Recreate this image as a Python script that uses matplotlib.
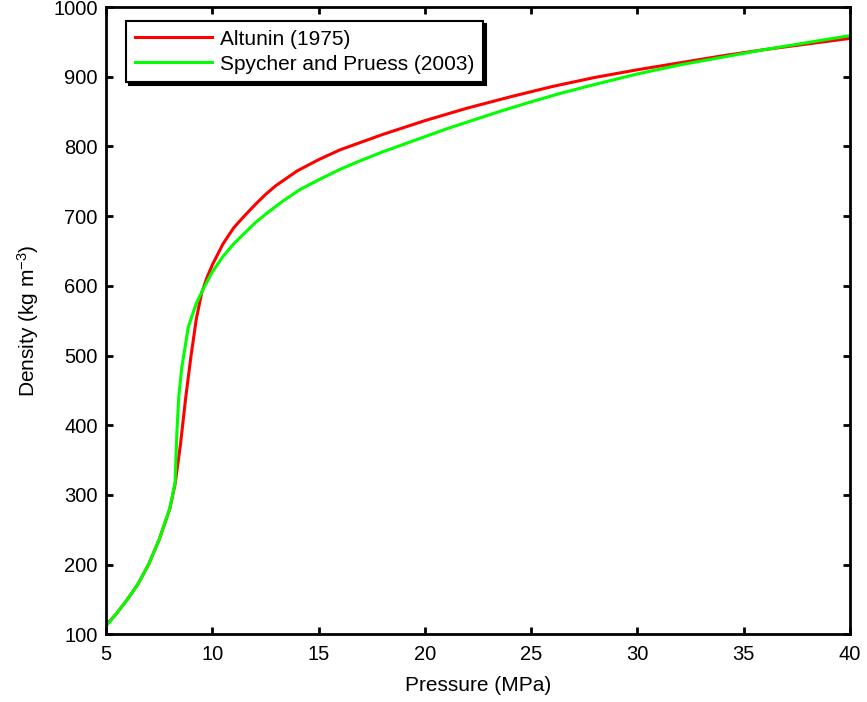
import matplotlib
matplotlib.use('Agg')
import matplotlib.pyplot as plt

plt.rcParams['font.family'] = ['Liberation Sans', 'DejaVu Sans']
plt.rcParams['mathtext.default'] = 'regular'

# CO2 density vs pressure
p_altunin = [5.0, 5.5, 6.0, 6.5, 7.0, 7.5, 8.0, 8.25, 8.5, 8.75, 9.0, 9.25, 9.5,
             9.75, 10.0, 10.5, 11.0, 11.5, 12.0, 12.5, 13.0, 14.0, 15.0, 16.0,
             17.0, 18.0, 19.0, 20.0, 22.0, 24.0, 26.0, 28.0, 30.0, 32.0, 34.0,
             36.0, 38.0, 40.0]
rho_altunin = [113, 130, 150, 172, 200, 236, 280, 316, 372, 440, 500, 553, 590,
               612, 630, 660, 683, 700, 716, 731, 744, 765, 781, 795,
               806, 817, 827, 837, 855, 871, 886, 899, 910, 920, 930,
               939, 947, 955]

p_spycher = [5.0, 5.5, 6.0, 6.5, 7.0, 7.5, 8.0, 8.25, 8.33, 8.42, 8.56, 8.87, 9.25,
             9.58, 10.0, 10.5, 11.0, 12.0, 12.56, 13.34, 14.12, 15.0, 16.0, 17.0,
             18.0, 19.0, 20.0, 21.0, 22.0, 23.5, 25.0, 26.36, 28.0, 30.0, 32.0,
             34.0, 36.0, 38.0, 40.0]
rho_spycher = [112, 130, 150, 172, 200, 236, 281, 318, 388, 440, 482, 541, 575,
               596, 620, 642, 660, 690, 704, 722, 738, 752, 767, 780,
               792, 803, 814, 825, 835, 850, 864, 876, 889, 904, 917,
               928, 939, 949, 959]

labels = ['Altunin (1975)', 'Spycher and Pruess (2003)']
xticks = [5, 10, 15, 20, 25, 30, 35, 40]
yticks = [100, 200, 300, 400, 500, 600, 700, 800, 900, 1000]

fig = plt.figure(figsize=(8.67, 7.02), dpi=100)
ax = fig.add_axes([0.1223, 0.0964, 0.8581, 0.8936])

ax.plot(p_altunin, rho_altunin, color='#ff0000', lw=2.2, label=labels[0])
ax.plot(p_spycher, rho_spycher, color='#00ff00', lw=2.2, label=labels[1])

ax.set_xlim(5, 40)
ax.set_ylim(100, 1000)
ax.set_xticks(xticks)
ax.set_yticks(yticks)
ax.tick_params(direction='in', length=5, width=2, labelsize=14.5,
               top=True, right=True)
ax.tick_params(axis='x', pad=8)
ax.tick_params(axis='y', pad=6)
for s in ax.spines.values():
    s.set_linewidth(2)

ax.set_xlabel('Pressure (MPa)', fontsize=15, labelpad=8)
ax.set_ylabel('Density (kg m$^{-3}$)', fontsize=15, labelpad=9)

leg = ax.legend(loc='upper left', bbox_to_anchor=(0.0269, 0.978), fontsize=15,
                borderaxespad=0, handlelength=3.7, handletextpad=0.4,
                borderpad=0.42, labelspacing=0.29, fancybox=False, framealpha=1,
                shadow={'facecolor': 'k', 'edgecolor': 'k', 'alpha': 1})
leg.get_frame().set_edgecolor('k')
leg.get_frame().set_linewidth(1.5)

fig.savefig('out.png', dpi=100)
